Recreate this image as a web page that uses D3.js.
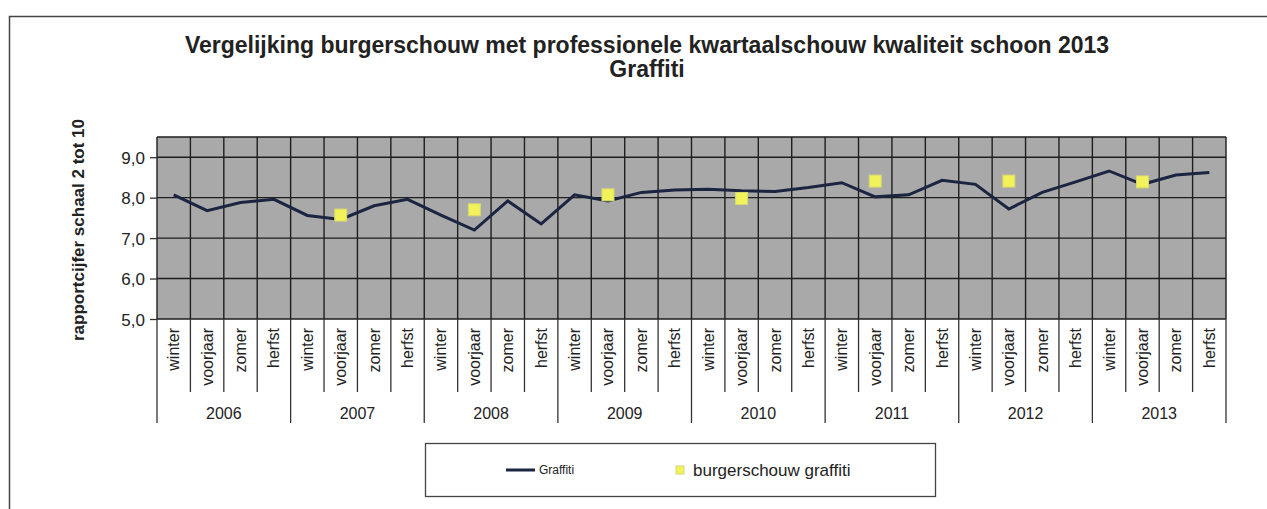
<!DOCTYPE html>
<html>
<head>
<meta charset="utf-8">
<script src="https://cdn.jsdelivr.net/npm/d3@7/dist/d3.min.js"></script>
<style>
  html, body { margin: 0; padding: 0; background: #fff; }
  svg { display: block; }
  text { font-family: "Liberation Sans", Arial, sans-serif; fill: #222; }
</style>
</head>
<body>
<script>
const years = ["2006", "2007", "2008", "2009", "2010", "2011", "2012", "2013"];
const seasons = ["winter", "voorjaar", "zomer", "herfst"];
const graffiti = [
  8.07, 7.68, 7.88, 7.96,
  7.56, 7.46, 7.80, 7.96,
  7.57, 7.20, 7.92, 7.35,
  8.07, 7.92, 8.13, 8.19,
  8.21, 8.17, 8.15, 8.25,
  8.37, 8.02, 8.07, 8.43,
  8.33, 7.72, 8.13, 8.39,
  8.66, 8.33, 8.56, 8.62
];
const burgerYears = ["2007", "2008", "2009", "2010", "2011", "2012", "2013"];
const burgerSeason = "voorjaar";
const burgerValues = [7.57, 7.70, 8.07, 7.98, 8.41, 8.41, 8.39];
const yTicks = [5, 6, 7, 8, 9];
const titleLines = ["Vergelijking burgerschouw met professionele kwartaalschouw kwaliteit schoon 2013", "Graffiti"];
const yTitle = "rapportcijfer schaal 2 tot 10";
const legendLabels = ["Graffiti", "burgerschouw graffiti"];

const W = 1267, H = 509;
const categories = [];
years.forEach(y => seasons.forEach(s => categories.push(y + "|" + s)));

const svg = d3.select("body").append("svg").attr("width", W).attr("height", H);

// outer frame
svg.append("rect").attr("x", 9.5).attr("y", 16.5).attr("width", 1400).attr("height", 600)
  .attr("fill", "none").attr("stroke", "#444").attr("stroke-width", 1.5);

// title
const title = svg.append("text").attr("text-anchor", "middle")
  .style("font-weight", "bold").style("font-size", "23px");
titleLines.forEach((t, i) => {
  title.append("tspan").attr("x", 647).attr("y", 53 + i * 24).text(t);
});

const plotL = 157, plotR = 1226, plotT = 137, plotB = 319;
const x = d3.scaleBand().domain(categories).range([plotL, plotR]).padding(0);
const y = d3.scaleLinear().domain([5, 9.5]).range([plotB, plotT]);

// plot background
svg.append("rect").attr("x", plotL).attr("y", plotT).attr("width", plotR - plotL).attr("height", plotB - plotT)
  .attr("fill", "#a9a9a9");

// horizontal gridlines
svg.append("g").selectAll("line").data(yTicks.concat([9.5])).join("line")
  .attr("x1", plotL).attr("x2", plotR).attr("y1", d => y(d)).attr("y2", d => y(d))
  .attr("stroke", "#1e1e1e").attr("stroke-width", 1.4);

// vertical gridlines in plot
const bounds = categories.map(c => x(c)).concat([plotR]);
svg.append("g").selectAll("line").data(bounds).join("line")
  .attr("x1", d => d).attr("x2", d => d).attr("y1", plotT).attr("y2", plotB)
  .attr("stroke", "#1e1e1e").attr("stroke-width", 1.4);

// category axis separators
svg.append("g").selectAll("line").data(bounds).join("line")
  .attr("x1", d => d).attr("x2", d => d).attr("y1", plotB)
  .attr("y2", (d, i) => (i % 4 === 0) ? 423 : 392)
  .attr("stroke", "#333").attr("stroke-width", 1.3);

// season labels
svg.append("g").selectAll("text").data(categories).join("text")
  .attr("transform", d => `translate(${x(d) + x.bandwidth() / 2 + 5.5},328) rotate(-90)`)
  .attr("text-anchor", "end").style("font-size", "16px")
  .text(d => d.split("|")[1]);

// year labels
svg.append("g").selectAll("text").data(years).join("text")
  .attr("x", yv => x(yv + "|winter") + x.bandwidth() * 2)
  .attr("y", 419).attr("text-anchor", "middle").style("font-size", "16px")
  .text(d => d);

// y axis
const yAxis = d3.axisLeft(y).tickValues(yTicks).tickSize(7).tickSizeOuter(0)
  .tickFormat(d => d3.format(".1f")(d).replace(".", ","));
const gy = svg.append("g").attr("transform", `translate(${plotL},0)`).call(yAxis);
gy.select(".domain").remove();
gy.selectAll(".tick line").attr("stroke", "#333").attr("stroke-width", 1.3);
gy.selectAll(".tick text").attr("x", -12).attr("dy", "0.36em")
  .style("font-size", "17px").style("font-family", "Liberation Sans, Arial, sans-serif").attr("fill", "#222");

// y axis title
svg.append("text").attr("transform", "translate(84,230) rotate(-90)")
  .attr("text-anchor", "middle").style("font-weight", "bold").style("font-size", "17px")
  .text(yTitle);

// line
const line = d3.line().x((d, i) => x(categories[i]) + x.bandwidth() / 2).y(d => y(d));
svg.append("path").datum(graffiti).attr("d", line)
  .attr("fill", "none").attr("stroke", "#1b2440").attr("stroke-width", 3)
  .attr("stroke-linejoin", "miter");

// squares
const sq = 12;
svg.append("g").selectAll("rect").data(burgerValues).join("rect")
  .attr("x", (d, i) => x(burgerYears[i] + "|" + burgerSeason) + x.bandwidth() / 2 - sq / 2)
  .attr("y", d => y(d) - sq / 2)
  .attr("width", sq).attr("height", sq)
  .attr("fill", "#f2f25a").attr("stroke", "#d8d870").attr("stroke-width", 1);

// legend
const lg = svg.append("g");
lg.append("rect").attr("x", 425.5).attr("y", 443.5).attr("width", 510).attr("height", 53)
  .attr("fill", "#fff").attr("stroke", "#444").attr("stroke-width", 1.3);
lg.append("line").attr("x1", 506).attr("x2", 535).attr("y1", 470).attr("y2", 470)
  .attr("stroke", "#1b2440").attr("stroke-width", 3);
lg.append("text").attr("x", 539).attr("y", 474).style("font-size", "12px").text(legendLabels[0]);
lg.append("rect").attr("x", 676).attr("y", 466).attr("width", 8).attr("height", 8)
  .attr("fill", "#f2f25a").attr("stroke", "#d8d870");
lg.append("text").attr("x", 693).attr("y", 476).style("font-size", "17px").text(legendLabels[1]);
</script>
</body>
</html>
